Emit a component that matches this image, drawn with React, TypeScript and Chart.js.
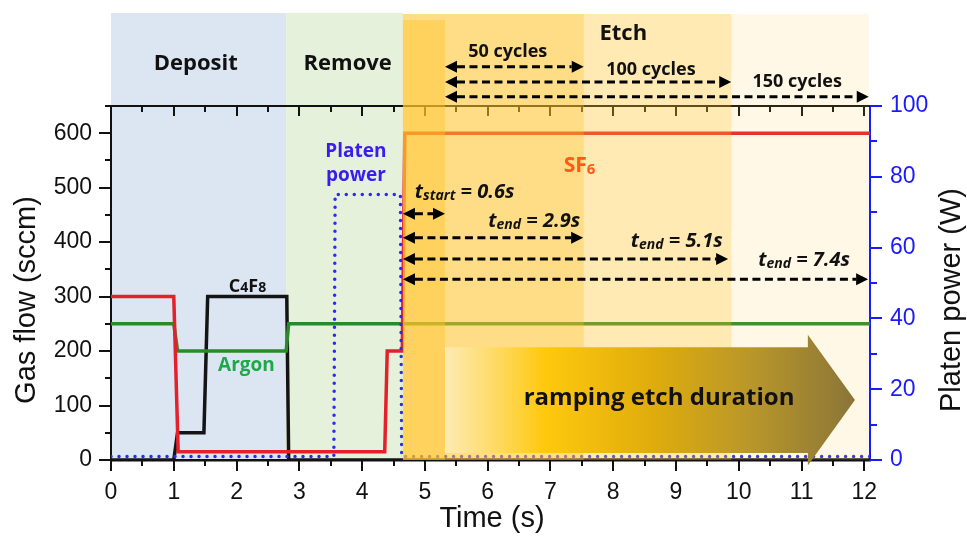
import React, { useEffect, useRef } from 'react';
import { Chart, registerables } from 'chart.js';

Chart.register(...registerables);

// ---------- series (time in s) ----------
const sf6Time = [0, 1.0, 1.07, 4.36, 4.4, 4.64, 4.68, 12.09];
const sf6Flow = [300, 300, 15, 15, 200, 200, 600, 600];
const c4f8Time = [0, 1.0, 1.06, 1.48, 1.54, 2.8, 2.83, 12.09];
const c4f8Flow = [0, 0, 50, 50, 300, 300, 0, 0];
const argonTime = [0, 1.0, 1.06, 2.79, 2.83, 12.09];
const argonFlow = [250, 250, 200, 200, 250, 250];
const platenTime = [0, 3.55, 3.57, 4.61, 4.63, 12.09];
const platenPower = [1, 1, 75, 75, 1, 1];

// ---------- axes ----------
const xMax = 12.09;
const flowMax = 650;
const powerMax = 100;

// ---------- phases (in data units) ----------
const phaseLabels = ['Deposit', 'Remove'];
const phaseStart = [0, 2.79];
const phaseEnd = [2.79, 4.65];
const phaseColors = ['#dce6f2', '#e5f1da'];
const phaseTop = 821;
const phaseLabelX = [1.35, 3.77];
const phaseLabelY = 716;

const etchStart = 4.65;
const etchEnds = [12.07, 9.88, 7.53, 5.32];
const etchTops = [819, 819, 819, 808];
const etchAlphas = [0.116, 0.258, 0.319, 0.44];
const etchLabel = 'Etch';
const etchLabelX = 8.16;
const etchLabelY = 771;

const cycleLabels = ['50 cycles', '100 cycles', '150 cycles'];
const cycleStart = 5.32;
const cycleEnds = [7.53, 9.88, 12.07];
const cycleArrowY = [722, 694, 667];
const cycleLabelX = [6.32, 8.6, 10.93];
const cycleLabelY = [740, 707, 685];

const tSubs = ['start', 'end', 'end', 'end'];
const tValues = ['0.6s', '2.9s', '5.1s', '7.4s'];
const tArrowStart = 4.65;
const tArrowEnds = [5.32, 7.52, 9.83, 12.06];
const tArrowY = [452, 408, 369, 332];
const tLabelX = [4.84, 6.01, 8.28, 10.31];
const tLabelY = [481, 428, 391, 356];

const rampLabel = 'ramping etch duration';
const rampStart = 5.32;
const rampHead = 11.1;
const rampTip = 11.85;
const rampBody = [13, 207];
const rampHeadSpan = [-10, 230];
const rampMid = 110;
const rampLabelX = 8.73;
const rampLabelY = 114;

const OPEN = '"Open Sans", "DejaVu Sans", sans-serif';
const ARIAL = '"Liberation Sans", Arial, sans-serif';

type Seg = { t: string; font: string; dy?: number };
function rich(ctx: CanvasRenderingContext2D, segs: Seg[], x: number, y: number, align: 'left' | 'center') {
  let w = 0;
  segs.forEach((s) => {
    ctx.font = s.font;
    w += ctx.measureText(s.t).width;
  });
  let cx = align === 'center' ? x - w / 2 : x;
  ctx.textAlign = 'left';
  ctx.textBaseline = 'alphabetic';
  segs.forEach((s) => {
    ctx.font = s.font;
    ctx.fillText(s.t, cx, y + (s.dy || 0));
    cx += ctx.measureText(s.t).width;
  });
}

function dashedArrow(ctx: CanvasRenderingContext2D, x1: number, x2: number, y: number) {
  const hl = 12;
  const hw = 6;
  ctx.save();
  ctx.strokeStyle = '#000';
  ctx.fillStyle = '#000';
  ctx.lineWidth = 3;
  ctx.setLineDash([8, 4.5]);
  ctx.beginPath();
  ctx.moveTo(x1 + hl, y);
  ctx.lineTo(x2 - hl, y);
  ctx.stroke();
  ctx.setLineDash([]);
  ctx.beginPath();
  ctx.moveTo(x1, y);
  ctx.lineTo(x1 + hl, y - hw);
  ctx.lineTo(x1 + hl, y + hw);
  ctx.closePath();
  ctx.fill();
  ctx.beginPath();
  ctx.moveTo(x2, y);
  ctx.lineTo(x2 - hl, y - hw);
  ctx.lineTo(x2 - hl, y + hw);
  ctx.closePath();
  ctx.fill();
  ctx.restore();
}

const deco = {
  id: 'deco',
  beforeDraw(chart: any) {
    const { ctx, scales } = chart;
    const x = scales.x;
    const y = scales.y;
    ctx.save();
    phaseStart.forEach((s, i) => {
      const x0 = x.getPixelForValue(s);
      const x1 = x.getPixelForValue(phaseEnd[i]);
      const yt = y.getPixelForValue(phaseTop);
      const yb = y.getPixelForValue(0);
      ctx.fillStyle = phaseColors[i];
      ctx.fillRect(x0, yt, x1 - x0, yb - yt);
    });
    ctx.restore();
  },
  beforeDatasetsDraw(chart: any) {
    const { ctx, chartArea: a, scales } = chart;
    const x = scales.x;
    const y = scales.y;
    const y1 = scales.y1;
    ctx.save();
    ctx.lineWidth = 2;
    ctx.strokeStyle = '#111';
    ctx.beginPath();
    ctx.moveTo(a.left - 6, a.top);
    ctx.lineTo(a.right, a.top);
    for (let k = 0; k <= 24; k++) {
      const px = Math.round(x.getPixelForValue(k / 2));
      const major = k % 2 === 0;
      ctx.moveTo(px, a.top);
      ctx.lineTo(px, a.top + (major ? 10 : 6));
      ctx.moveTo(px, a.bottom);
      ctx.lineTo(px, a.bottom + (major ? 11 : 6));
    }
    for (let v = 0; v < flowMax; v += 50) {
      const py = Math.round(y.getPixelForValue(v));
      ctx.moveTo(a.left, py);
      ctx.lineTo(a.left - (v % 100 === 0 ? 12 : 6), py);
    }
    ctx.stroke();
    ctx.strokeStyle = '#1a1aff';
    ctx.beginPath();
    for (let v = 0; v <= powerMax; v += 10) {
      const py = Math.round(y1.getPixelForValue(v));
      ctx.moveTo(a.right, py);
      ctx.lineTo(a.right + (v % 20 === 0 ? 12 : 7), py);
    }
    ctx.stroke();
    ctx.restore();
  },
  afterDatasetsDraw(chart: any) {
    const { ctx, scales } = chart;
    const x = scales.x;
    const y = scales.y;
    ctx.save();
    etchEnds.forEach((e, i) => {
      const x0 = x.getPixelForValue(etchStart);
      const x1 = x.getPixelForValue(e);
      const yt = y.getPixelForValue(etchTops[i]);
      const yb = y.getPixelForValue(0);
      ctx.fillStyle = `rgba(255,194,40,${etchAlphas[i]})`;
      ctx.fillRect(x0, yt, x1 - x0, yb - yt);
    });
    ctx.restore();
  },
  afterDraw(chart: any) {
    const { ctx, chartArea: a, scales } = chart;
    const x = scales.x;
    const y = scales.y;
    const X = (v: number) => x.getPixelForValue(v);
    const Y = (v: number) => y.getPixelForValue(v);
    ctx.save();

    // ramp arrow
    const xs = X(rampStart);
    const xh = X(rampHead);
    const xt = X(rampTip);
    const g = ctx.createLinearGradient(xs, 0, xt, 0);
    g.addColorStop(0, 'rgba(253,236,185,0.9)');
    g.addColorStop(0.24, '#ffc90e');
    g.addColorStop(0.5, '#e0ad0c');
    g.addColorStop(0.75, '#b8962a');
    g.addColorStop(1, '#8a7538');
    ctx.fillStyle = g;
    ctx.beginPath();
    ctx.moveTo(xs, Y(rampBody[1]));
    ctx.lineTo(xh, Y(rampBody[1]));
    ctx.lineTo(xh, Y(rampHeadSpan[1]));
    ctx.lineTo(xt, Y(rampMid));
    ctx.lineTo(xh, Y(rampHeadSpan[0]));
    ctx.lineTo(xh, Y(rampBody[0]));
    ctx.lineTo(xs, Y(rampBody[0]));
    ctx.closePath();
    ctx.fill();
    ctx.fillStyle = '#111';
    ctx.font = `bold 24px ${OPEN}`;
    ctx.textAlign = 'center';
    ctx.textBaseline = 'middle';
    ctx.fillText(rampLabel, X(rampLabelX), Y(rampLabelY));

    // arrows
    cycleEnds.forEach((e, i) => dashedArrow(ctx, X(cycleStart), X(e), Y(cycleArrowY[i])));
    tArrowEnds.forEach((e, i) => dashedArrow(ctx, X(tArrowStart), X(e), Y(tArrowY[i])));

    // header labels
    ctx.fillStyle = '#111';
    ctx.textAlign = 'center';
    ctx.textBaseline = 'alphabetic';
    ctx.font = `bold 22px ${OPEN}`;
    phaseLabels.forEach((l, i) => ctx.fillText(l, X(phaseLabelX[i]), Y(phaseLabelY)));
    ctx.fillText(etchLabel, X(etchLabelX), Y(etchLabelY));
    ctx.font = `bold 18px ${OPEN}`;
    cycleLabels.forEach((l, i) => ctx.fillText(l, X(cycleLabelX[i]), Y(cycleLabelY[i])));

    // t labels
    ctx.fillStyle = '#111';
    tSubs.forEach((s, i) => {
      rich(
        ctx,
        [
          { t: 't', font: `italic bold 20px ${OPEN}` },
          { t: s, font: `italic bold 14px ${OPEN}`, dy: 2 },
          { t: ' = ' + tValues[i], font: `italic bold 20px ${OPEN}` },
        ],
        X(tLabelX[i]),
        Y(tLabelY[i]),
        'left'
      );
    });

    // series labels
    ctx.fillStyle = '#111';
    rich(
      ctx,
      [
        { t: 'C', font: `bold 18px ${OPEN}` },
        { t: '4', font: `bold 14px ${OPEN}` },
        { t: 'F', font: `bold 18px ${OPEN}` },
        { t: '8', font: `bold 14px ${OPEN}` },
      ],
      X(2.174),
      Y(308),
      'center'
    );
    ctx.fillStyle = '#1fa84a';
    ctx.font = `bold 19px ${OPEN}`;
    ctx.textAlign = 'center';
    ctx.fillText('Argon', X(2.158), Y(163));
    ctx.fillStyle = '#3a1cf0';
    ctx.fillText('Platen', X(3.9), Y(557));
    ctx.fillText('power', X(3.9), Y(513));
    ctx.fillStyle = '#ff5a14';
    rich(
      ctx,
      [
        { t: 'SF', font: `bold 21px ${OPEN}` },
        { t: '6', font: `bold 15px ${OPEN}`, dy: 2 },
      ],
      X(7.21),
      Y(529),
      'left'
    );

    // axis titles
    ctx.fillStyle = '#111';
    ctx.font = `29px ${ARIAL}`;
    ctx.textAlign = 'center';
    ctx.textBaseline = 'middle';
    ctx.fillText('Time (s)', 492, a.bottom + 59);
    ctx.save();
    ctx.translate(27, 300);
    ctx.rotate(-Math.PI / 2);
    ctx.fillText('Gas flow (sccm)', 0, 0);
    ctx.restore();
    ctx.save();
    ctx.translate(952, 300);
    ctx.rotate(-Math.PI / 2);
    ctx.fillText('Platen power (W)', 0, 0);
    ctx.restore();

    ctx.restore();
  },
};

export default function App() {
  const ref = useRef<HTMLCanvasElement>(null);
  useEffect(() => {
    document.body.style.margin = '0';
    const canvas = ref.current!;
    const mk = (t: number[], v: number[]) => t.map((xv, i) => ({ x: xv, y: v[i] }));
    const tickFont = { family: ARIAL, size: 23 };
    const chart = new Chart(canvas, {
      type: 'line',
      data: {
        datasets: [
          {
            label: 'Platen power',
            data: mk(platenTime, platenPower),
            borderColor: '#2a2af0',
            borderWidth: 3.5,
            borderDash: [0, 8],
            borderCapStyle: 'round',
            yAxisID: 'y1',
          },
          { label: 'SF6', data: mk(sf6Time, sf6Flow), borderColor: '#e4202c', borderWidth: 3.5, yAxisID: 'y' },
          { label: 'Argon', data: mk(argonTime, argonFlow), borderColor: '#2a8a2a', borderWidth: 3.5, yAxisID: 'y' },
          { label: 'C4F8', data: mk(c4f8Time, c4f8Flow), borderColor: '#141414', borderWidth: 3.5, yAxisID: 'y' },
        ],
      },
      options: {
        responsive: false,
        animation: false,
        devicePixelRatio: 1,
        elements: { point: { radius: 0 }, line: { tension: 0 } },
        layout: { padding: { top: 106, left: 0, right: 0, bottom: 0 } },
        plugins: { legend: { display: false }, tooltip: { enabled: false } },
        scales: {
          x: {
            type: 'linear',
            position: 'bottom',
            min: 0,
            max: xMax,
            ticks: { stepSize: 1, includeBounds: false, font: tickFont, color: '#111', padding: 8, maxRotation: 0 },
            grid: { display: false, drawTicks: true, tickLength: 11 },
            border: { display: true, color: '#111', width: 2.5 },
            afterFit: (s: any) => {
              s.height = 76;
            },
          },
          y: {
            type: 'linear',
            position: 'left',
            min: 0,
            max: flowMax,
            ticks: { stepSize: 100, includeBounds: false, font: tickFont, color: '#111', padding: 7 },
            grid: { display: false, drawTicks: true, tickLength: 12 },
            border: { display: true, color: '#111', width: 2 },
            afterFit: (s: any) => {
              s.width = 111;
            },
          },
          y1: {
            type: 'linear',
            position: 'right',
            min: 0,
            max: powerMax,
            ticks: { stepSize: 20, includeBounds: false, font: tickFont, color: '#1a1aff', padding: 8 },
            grid: { display: false, drawTicks: true, tickLength: 12 },
            border: { display: true, color: '#1a1aff', width: 2 },
            afterFit: (s: any) => {
              s.width = 97;
            },
          },
        },
      },
      plugins: [deco],
    } as any);
    return () => chart.destroy();
  }, []);
  return <canvas ref={ref} width={967} height={536} style={{ display: 'block' }} />;
}
